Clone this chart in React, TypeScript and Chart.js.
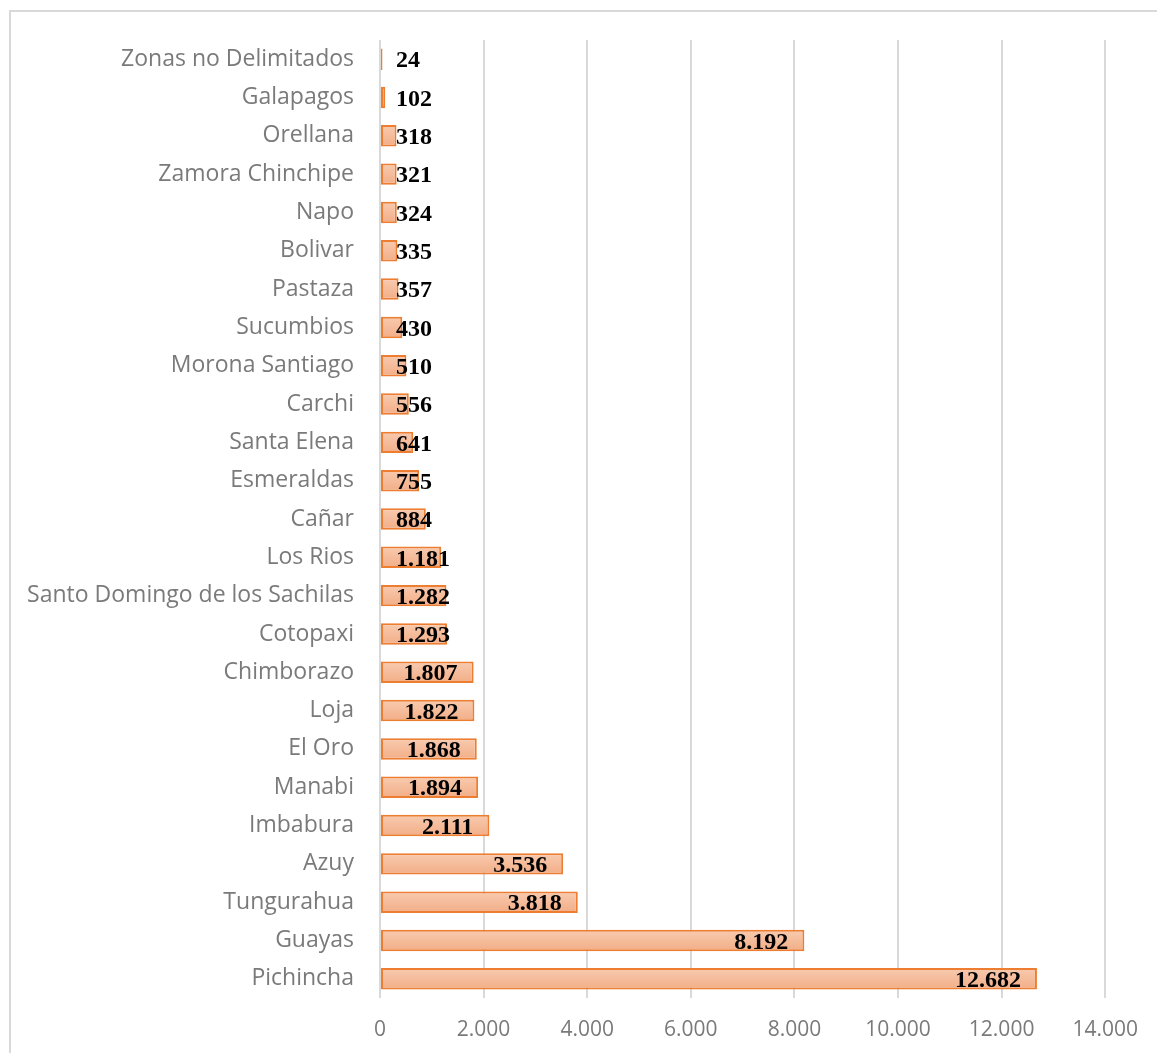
import React, { useEffect, useRef } from "react";
import { Chart, registerables } from "chart.js";

Chart.register(...registerables);

const provinces = [
  "Zonas no Delimitados",
  "Galapagos",
  "Orellana",
  "Zamora Chinchipe",
  "Napo",
  "Bolivar",
  "Pastaza",
  "Sucumbios",
  "Morona Santiago",
  "Carchi",
  "Santa Elena",
  "Esmeraldas",
  "Cañar",
  "Los Rios",
  "Santo Domingo de los Sachilas",
  "Cotopaxi",
  "Chimborazo",
  "Loja",
  "El Oro",
  "Manabi",
  "Imbabura",
  "Azuy",
  "Tungurahua",
  "Guayas",
  "Pichincha",
];

const values = [
  24, 102, 318, 321, 324, 335, 357, 430, 510, 556, 641, 755, 884, 1181, 1282,
  1293, 1807, 1822, 1868, 1894, 2111, 3536, 3818, 8192, 12682,
];

const xTicks = [0, 2000, 4000, 6000, 8000, 10000, 12000, 14000];

const fmt = (v: number) =>
  Math.round(v)
    .toString()
    .replace(/\B(?=(\d{3})+(?!\d))/g, ".");

const labelPlugin = {
  id: "barLabels",
  afterDatasetsDraw(chart: any) {
    const ctx = chart.ctx;
    const meta = chart.getDatasetMeta(0);
    const left = chart.chartArea.left;
    ctx.save();
    ctx.font = "bold 24px 'Liberation Serif', 'Times New Roman', serif";
    ctx.fillStyle = "#000000";
    ctx.textBaseline = "middle";
    ctx.textAlign = "left";
    meta.data.forEach((bar: any, i: number) => {
      const text = fmt(values[i]);
      const w = ctx.measureText(text).width;
      let x = bar.x - 16 - w;
      if (x < left + 16) x = left + 16;
      ctx.fillText(text, x, bar.y + 2);
    });
    ctx.restore();
  },
};

export default function App() {
  const ref = useRef<HTMLCanvasElement | null>(null);

  useEffect(() => {
    if (!ref.current) return;
    const chart = new Chart(ref.current, {
      type: "bar",
      data: {
        labels: provinces,
        datasets: [
          {
            data: values,
            backgroundColor: (c: any) => {
              const ch = c.chart;
              const ys = ch.scales && ch.scales.y;
              if (!ys || c.dataIndex === undefined) return "#f5b895";
              const yc = ys.getPixelForValue(c.dataIndex);
              if (!Number.isFinite(yc)) return "#f5b895";
              const g = ch.ctx.createLinearGradient(0, yc - 11, 0, yc + 11);
              g.addColorStop(0, "#f8cbb0");
              g.addColorStop(1, "#f2ad86");
              return g;
            },
            borderColor: "#ed7d31",
            borderWidth: 2,
            borderSkipped: false,
            minBarLength: 2.5,
            categoryPercentage: 1,
            barPercentage: 0.56,
          },
        ],
      },
      options: {
        indexAxis: "y",
        animation: false,
        responsive: false,
        maintainAspectRatio: false,
        layout: { padding: { left: 0, top: 40, right: 48, bottom: 0 } },
        plugins: {
          legend: { display: false },
          tooltip: { enabled: false },
        },
        scales: {
          x: {
            type: "linear",
            min: 0,
            max: 14000,
            afterBuildTicks: (s: any) => {
              s.ticks = xTicks.map((v) => ({ value: v }));
            },
            afterFit: (s: any) => {
              s.height = 55;
            },
            ticks: {
              callback: (v: any) => fmt(Number(v)),
              color: "#7a7a7a",
              font: { family: "'Open Sans', sans-serif", size: 21 },
              padding: 19,
            },
            grid: { color: "#d9d9d9", lineWidth: 2, drawTicks: false },
            border: { display: false },
          },
          y: {
            type: "category",
            afterFit: (s: any) => {
              s.width = 380;
            },
            ticks: {
              color: "#7a7a7a",
              font: { family: "'Open Sans', sans-serif", size: 23 },
              padding: 26,
              autoSkip: false,
            },
            grid: { display: false, drawTicks: false },
            border: { display: false },
          },
        },
      },
      plugins: [labelPlugin],
    } as any);
    return () => chart.destroy();
  }, []);

  return (
    <div style={{ position: "fixed", left: 0, top: 0, width: 1157, height: 1053, background: "#fff" }}>
      <div
        style={{
          position: "absolute",
          left: 9,
          top: 10,
          width: 1200,
          height: 1100,
          borderLeft: "2px solid #d9d9d9",
          borderTop: "2px solid #d9d9d9",
        }}
      />
      <canvas
        ref={ref}
        width={1157}
        height={1053}
        style={{ position: "absolute", left: 0, top: 0, width: 1157, height: 1053 }}
      />
    </div>
  );
}
